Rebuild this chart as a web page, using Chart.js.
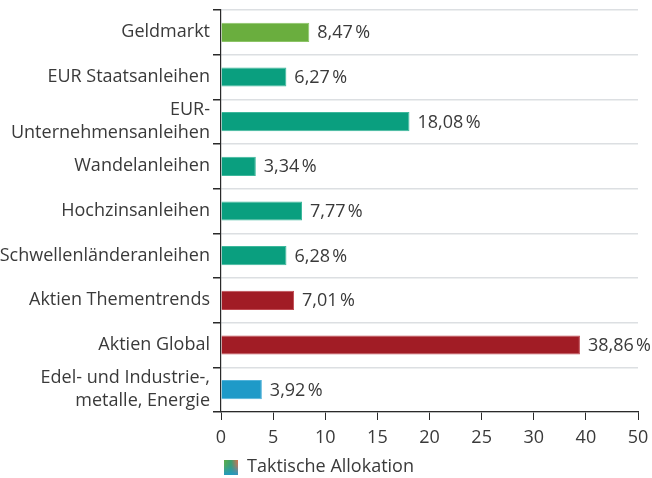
<!DOCTYPE html>
<html>
<head>
<meta charset="utf-8">
<script src="https://cdn.jsdelivr.net/npm/chart.js@4/dist/chart.umd.min.js"></script>
<style>
  html, body { margin: 0; padding: 0; background: #ffffff; }
  #wrap { width: 652px; height: 478px; position: relative; }
</style>
</head>
<body>
<div id="wrap"><canvas id="c" width="652" height="478"></canvas></div>
<script>
// ---- data ----
const categories = [
  'Geldmarkt',
  'EUR Staatsanleihen',
  ['EUR-', 'Unternehmensanleihen'],
  'Wandelanleihen',
  'Hochzinsanleihen',
  'Schwellenländeranleihen',
  'Aktien Thementrends',
  'Aktien Global',
  ['Edel- und Industrie-,', 'metalle, Energie']
];
const allocation = [8.47, 6.27, 18.08, 3.34, 7.77, 6.28, 7.01, 38.86, 3.92];
const valueLabels = ['8,47\u202F%', '6,27\u202F%', '18,08\u202F%', '3,34\u202F%', '7,77\u202F%', '6,28\u202F%', '7,01\u202F%', '38,86\u202F%', '3,92\u202F%'];
const xTicks = [0, 5, 10, 15, 20, 25, 30, 40, 50];
const seriesName = 'Taktische Allokation';

// ---- styles ----
const barColors = ['#6aae3e', '#0a9f7f', '#0a9f7f', '#0a9f7f', '#0a9f7f', '#0a9f7f', '#a11c25', '#a11c25', '#1e9ac8'];
const barEdges  = ['#8cc466', '#3db89c', '#3db89c', '#3db89c', '#3db89c', '#3db89c', '#c04a52', '#c04a52', '#52b3da'];
const FONT = "'Open Sans', 'Noto Sans', sans-serif";
const TEXT = '#3a3a3a';
const FS = 18;

// Axis whose tick intervals each get equal width (as in the reference: 0..30 by 5, then 40, 50)
class SegmentScale extends Chart.LinearScale {
  static id = 'segment';
  static defaults = {};
  buildTicks() { return xTicks.map(v => ({ value: v })); }
  _frac(v) {
    const n = xTicks.length - 1;
    if (v <= xTicks[0]) return 0;
    for (let i = 0; i < n; i++) {
      if (v <= xTicks[i + 1]) return (i + (v - xTicks[i]) / (xTicks[i + 1] - xTicks[i])) / n;
    }
    return 1;
  }
  getPixelForValue(v) { return this.getPixelForDecimal(this._frac(v)); }
  getValueForPixel(p) {
    const n = xTicks.length - 1;
    const f = this.getDecimalForPixel(p) * n;
    const i = Math.max(0, Math.min(n - 1, Math.floor(f)));
    return xTicks[i] + (f - i) * (xTicks[i + 1] - xTicks[i]);
  }
}
Chart.register(SegmentScale);

// legend icon
function legendIcon() {
  const c = document.createElement('canvas');
  c.width = 14; c.height = 15;
  const g = c.getContext('2d');
  const h = g.createLinearGradient(0, 0, 14, 0);
  h.addColorStop(0, '#5fae45');
  h.addColorStop(0.5, '#3c9f6a');
  h.addColorStop(1, '#e0704e');
  g.fillStyle = h; g.fillRect(0, 0, 14, 15);
  const v = g.createLinearGradient(0, 0, 0, 15);
  v.addColorStop(0, 'rgba(30,154,200,0)');
  v.addColorStop(0.4, 'rgba(30,154,200,0.2)');
  v.addColorStop(1, 'rgba(30,154,200,0.9)');
  g.fillStyle = v; g.fillRect(0, 0, 14, 15);
  return c;
}

const valueLabelPlugin = {
  id: 'valueLabels',
  afterDatasetsDraw(chart) {
    const ctx = chart.ctx;
    const meta = chart.getDatasetMeta(0);
    ctx.save();
    ctx.font = FS + 'px ' + FONT;
    ctx.fillStyle = TEXT;
    ctx.textAlign = 'left';
    ctx.textBaseline = 'middle';
    meta.data.forEach((bar, i) => {
      ctx.fillText(valueLabels[i], bar.x + 8, bar.y + 1);
    });
    ctx.restore();
  }
};

new Chart(document.getElementById('c'), {
  type: 'bar',
  data: {
    labels: categories,
    datasets: [{
      label: seriesName,
      data: allocation,
      backgroundColor: barColors,
      borderColor: barEdges,
      borderWidth: 1,
      borderSkipped: 'start',
      barPercentage: 0.43,
      categoryPercentage: 1
    }]
  },
  options: {
    indexAxis: 'y',
    responsive: false,
    animation: false,
    devicePixelRatio: 1,
    layout: { padding: { top: 10, right: 14, left: 0, bottom: 0 } },
    scales: {
      x: {
        type: 'segment',
        min: 0,
        max: 50,
        grid: { drawOnChartArea: false, drawTicks: true, tickLength: 8, color: '#2a2a2a', lineWidth: 1 },
        border: { color: '#2a2a2a', width: 1.2 },
        ticks: {
          color: TEXT,
          font: { family: FONT, size: FS },
          padding: 7,
          maxRotation: 0,
          autoSkip: false,
          callback: (v) => String(v)
        },
        afterFit: (s) => { s.height = 44; s.paddingRight = 0; s.paddingLeft = 0; }
      },
      y: {
        grid: { color: '#dcdfe2', lineWidth: 1.5, tickColor: '#2a2a2a', tickLength: 8, offset: true },
        border: { color: '#2a2a2a', width: 1.2 },
        ticks: {
          color: TEXT,
          font: { family: FONT, size: FS, lineHeight: 1.3 },
          padding: 3,
          autoSkip: false
        },
        afterFit: (s) => { s.width = 221; s.paddingTop = 0; s.paddingBottom = 0; }
      }
    },
    plugins: {
      legend: {
        position: 'bottom',
        maxHeight: 22,
        labels: {
          color: TEXT,
          font: { family: FONT, size: FS },
          usePointStyle: true,
          pointStyleWidth: 14,
          padding: 2,
          generateLabels: () => [{
            text: seriesName,
            pointStyle: legendIcon(),
            fillStyle: '#0a9f7f',
            strokeStyle: 'transparent',
            lineWidth: 0,
            hidden: false,
            datasetIndex: 0,
            fontColor: TEXT
          }]
        }
      },
      tooltip: { enabled: false }
    }
  },
  plugins: [valueLabelPlugin]
});
</script>
</body>
</html>
